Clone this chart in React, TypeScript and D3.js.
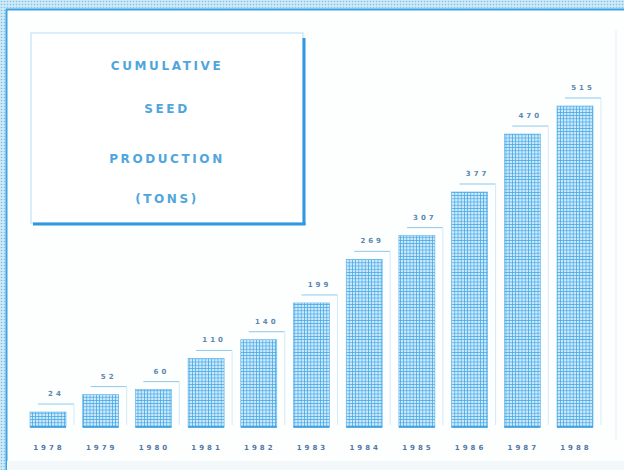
import React from "react";
import * as d3 from "d3";

const years = ["1978", "1979", "1980", "1981", "1982", "1983", "1984", "1985", "1986", "1987", "1988"];
const values = [24, 52, 60, 110, 140, 199, 269, 307, 377, 470, 515];
const valueLabels = ["24", "52", "60", "110", "140", "199", "269", "307", "377", "470", "515"];
const titleLines = ["CUMULATIVE", "SEED", "PRODUCTION", "(TONS)"];

const W = 624;
const H = 470;

export default function App() {
  const x = d3.scaleBand<string>().domain(years).range([30, 593]).paddingInner(0.317).paddingOuter(0);
  const y = d3.scaleLinear().domain([0, 515]).range([427, 106]);
  const bw = x.bandwidth();
  const titleY = [70, 113, 163, 203];

  return (
    <svg width={W} height={H} style={{ position: "absolute", left: 0, top: 0, background: "#fdfefe" }}>
      <defs>
        <pattern id="dots" width="3" height="3" patternUnits="userSpaceOnUse">
          <rect width="3" height="3" fill="#cfe9f7" />
          <circle cx="1.5" cy="1.5" r="0.8" fill="#7cc3ec" />
        </pattern>
        <pattern id="grid" width="3.2" height="3.2" patternUnits="userSpaceOnUse">
          <rect width="3.2" height="3.2" fill="#cdeafb" />
          <path d="M0 0.4 H3.2 M0.4 0 V3.2" stroke="#4aa9e6" strokeWidth="0.75" />
        </pattern>
      </defs>
      {/* textured frame */}
      <rect x={0} y={0} width={W} height={9} fill="url(#dots)" />
      <rect x={0} y={0} width={6} height={H} fill="url(#dots)" />
      <line x1={6} x2={W} y1={9.5} y2={9.5} stroke="#3ea3e3" strokeWidth={2} />
      <line x1={6.5} x2={6.5} y1={9} y2={H} stroke="#3ea3e3" strokeWidth={2} />
      <line x1={616} x2={616} y1={30} y2={440} stroke="#e4f2fa" strokeWidth={1} />
      <rect x={7} y={461} width={W - 7} height={9} fill="#f3f9fb" />

      {/* title box */}
      <rect x={31} y={33} width={272} height={190} fill="#ffffff" stroke="#b7dcf2" strokeWidth={1} />
      <line x1={304} x2={304} y1={38} y2={225} stroke="#2f98de" strokeWidth={3} />
      <line x1={33} x2={305.5} y1={224} y2={224} stroke="#2f98de" strokeWidth={3} />
      {titleLines.map((t, i) => (
        <text
          key={t}
          x={167}
          y={titleY[i]}
          textAnchor="middle"
          fontFamily="'DejaVu Sans', sans-serif"
          fontWeight="bold"
          fontSize={12}
          letterSpacing={2.6}
          fill="#4fa6dc"
        >
          {t}
        </text>
      ))}

      {/* bars */}
      {years.map((yr, i) => {
        const x0 = x(yr)!;
        const top = y(values[i]);
        const bl = top - 8;
        return (
          <g key={yr}>
            <rect x={x0} y={top} width={bw} height={y(0) - top} fill="url(#grid)" stroke="#5ab2e8" strokeWidth={0.6} />
            <line x1={x0} x2={x0 + bw} y1={y(0)} y2={y(0)} stroke="#2f98de" strokeWidth={1.5} />
            <line x1={x0 + 8} x2={x0 + bw + 8} y1={bl} y2={bl} stroke="#8fc9ec" strokeWidth={1} />
            <line x1={x0 + bw + 8} x2={x0 + bw + 8} y1={bl} y2={y(0) - 2} stroke="#d4ebf7" strokeWidth={1} />
            <text
              x={x0 + bw / 2 + 8}
              y={bl - 8}
              textAnchor="middle"
              fontFamily="'DejaVu Sans', sans-serif"
              fontWeight="bold"
              fontSize={7}
              letterSpacing={3}
              fill="#5b87b0"
            >
              {valueLabels[i]}
            </text>
            <text
              x={x0 + bw / 2 + 1}
              y={450}
              textAnchor="middle"
              fontFamily="'DejaVu Sans', sans-serif"
              fontWeight="bold"
              fontSize={7}
              letterSpacing={3}
              fill="#4f79a6"
            >
              {yr}
            </text>
          </g>
        );
      })}
    </svg>
  );
}
